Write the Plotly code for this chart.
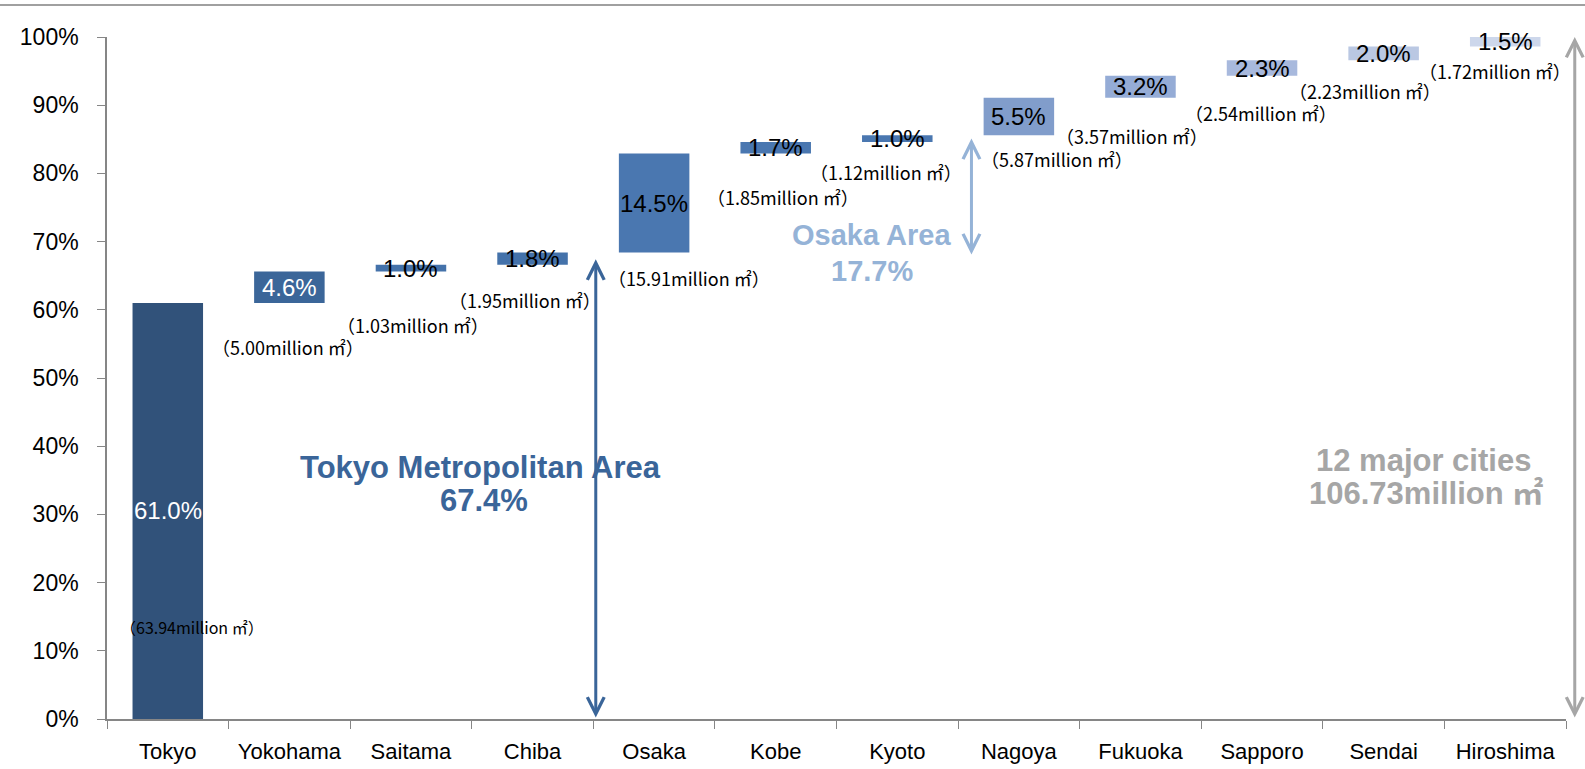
import plotly.graph_objects as go

cities = ["Tokyo", "Yokohama", "Saitama", "Chiba", "Osaka", "Kobe", "Kyoto",
          "Nagoya", "Fukuoka", "Sapporo", "Sendai", "Hiroshima"]
shares = [61.0, 4.6, 1.0, 1.8, 14.5, 1.7, 1.0, 5.5, 3.2, 2.3, 2.0, 1.5]
areas = ["63.94", "5.00", "1.03", "1.95", "15.91", "1.85", "1.12",
         "5.87", "3.57", "2.54", "2.23", "1.72"]
total_area = "106.73"
tokyo_area_share = 67.4
osaka_area_share = 17.7
total_share = 100.0
y_ticks = list(range(0, 101, 10))
y_ticktext = [f"{v}%" for v in y_ticks]

colors = ["#31527A", "#3B6699", "#4472AA", "#4472AA", "#4A77B0", "#4A77B0", "#4A77B0",
          "#819DCB", "#95ACD6", "#A8B9DD", "#BAC8E3", "#CDD7EB"]
label_colors = ["white", "white"] + ["black"] * 10

# label placement (layout only)
area_dx = [0.2, -0.01, 0.02, -0.06, 0.29, 0.06, -0.09, 0.31, -0.07, -0.01, -0.15, -0.08]
area_dy = [None, -6.4, -7.8, -5.2, -3.8, -6.4, -4.4, -3.5, -5.6, -5.4, -4.5, -3.6]
tokyo_label_y = 13.5

bases = []
acc = 0.0
for s in shares:
    bases.append(acc)
    acc += s

fig = go.Figure()
fig.add_trace(go.Bar(
    x=cities, y=shares, base=bases, marker=dict(color=colors, line=dict(width=0)),
    width=0.58, hoverinfo="skip", showlegend=False,
))

font_main = "Liberation Sans, Arial, sans-serif"
font_jp = "Noto Sans CJK JP, Noto Sans, sans-serif"

annotations = []
for i, (s, b) in enumerate(zip(shares, bases)):
    annotations.append(dict(
        x=i, y=b + s / 2, xref="x", yref="y", text=f"{s:.1f}%", showarrow=False,
        font=dict(family=font_main, size=24, color=label_colors[i]),
    ))
    annotations.append(dict(
        x=i + area_dx[i], y=(b + area_dy[i]) if i else tokyo_label_y, xref="x", yref="y",
        text=f"（{areas[i]}million ㎡）", showarrow=False,
        font=dict(family=font_jp, size=16 if i == 0 else 18, color="black"),
    ))

arrow_style = dict(text="", showarrow=True, arrowhead=5, startarrowhead=5,
                   arrowside="end+start", arrowsize=1.1, startarrowsize=1.1,
                   arrowwidth=3, standoff=0, startstandoff=0)

def dbl_arrow(x, y0, y1, color):
    return dict(x=x, y=y1, ax=x, ay=y0, xref="x", yref="y", axref="x", ayref="y",
                arrowcolor=color, **arrow_style)

annotations.append(dbl_arrow(3.52, 0.0, tokyo_area_share, "#3A6599"))
annotations.append(dbl_arrow(6.61, 67.9, 85.1, "#95B3D7"))
# total arrow sits just right of the plot area -> paper x reference
annotations.append(dict(x=1.006, y=total_share, ax=0, ay=0.0, xref="paper", yref="y",
                        axref="pixel", ayref="y", arrowcolor="#A6A6A6", **arrow_style))

def big_text(x, y, text, size, color):
    return dict(x=x, y=y, xref="x", yref="y", showarrow=False, text=text,
                font=dict(family="Liberation Sans, Noto Sans CJK JP, Arial, sans-serif",
                          size=size, color=color, weight="bold"))

annotations += [
    big_text(2.57, 36.9, "Tokyo Metropolitan Area", 31, "#3A6599"),
    big_text(2.6, 32.1, f"{tokyo_area_share}%", 31, "#3A6599"),
    big_text(5.79, 70.9, "Osaka Area", 29, "#95B3D7"),
    big_text(5.79, 65.7, f"{osaka_area_share}%", 29, "#95B3D7"),
    big_text(10.33, 37.9, "12 major cities", 31, "#A6A6A6"),
    big_text(10.35, 33.0, f"{total_area}million ㎡", 31, "#A6A6A6"),
]

fig.update_layout(
    width=1585, height=769,
    margin=dict(l=107, r=19, t=37, b=50, autoexpand=False),
    paper_bgcolor="white", plot_bgcolor="white",
    annotations=annotations,
    shapes=[dict(type="line", xref="paper", yref="paper", x0=-0.08, x1=1.02,
                 y0=1.047, y1=1.047, line=dict(color="#A0A0A0", width=2))],
    xaxis=dict(
        type="category", tickson="boundaries", ticks="outside", ticklen=8,
        tickcolor="#868686", showline=True, linecolor="#868686", linewidth=1.5,
        showgrid=False, tickfont=dict(family=font_main, size=22, color="black"),
        ticklabelstandoff=12, range=[-0.5, 11.5], automargin=False,
    ),
    yaxis=dict(
        range=[0, 100], tickvals=y_ticks, ticktext=y_ticktext,
        ticks="outside", ticklen=8, tickcolor="#868686", showline=True,
        linecolor="#868686", linewidth=1.5, showgrid=False, zeroline=False,
        tickfont=dict(family=font_main, size=23, color="black"),
        ticklabelstandoff=14, automargin=False,
    ),
)

fig.write_html("out.html", config={"displayModeBar": False},
               post_script="document.body.style.margin='0';")
